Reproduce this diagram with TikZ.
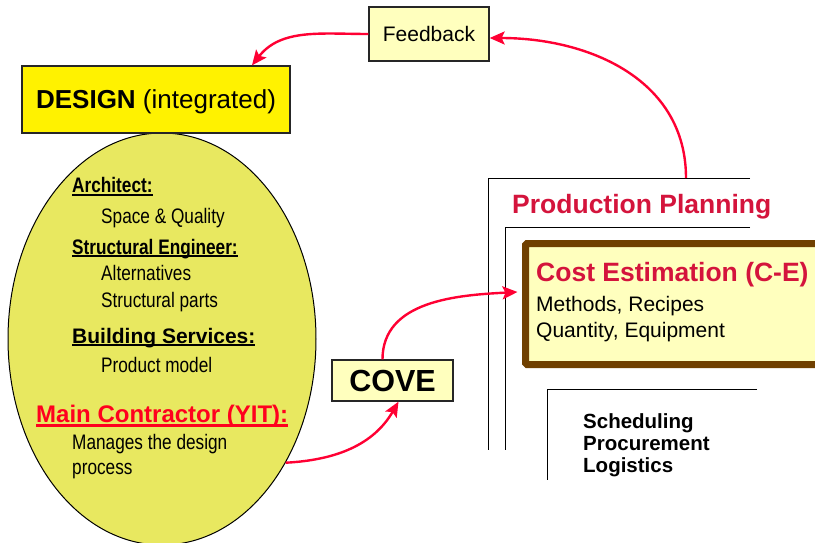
\documentclass[tikz,border=0pt]{standalone}
\usepackage{fontspec}
\setmainfont{Liberation Sans}
\newfontfamily\narrowfont[FakeStretch=0.82]{Liberation Sans}
\usetikzlibrary{shapes.geometric,arrows.meta}
\definecolor{arrowred}{RGB}{255,0,51}
\definecolor{titlered}{RGB}{212,20,60}
\definecolor{mainred}{RGB}{255,0,30}
\definecolor{paleyellow}{RGB}{255,255,190}
\definecolor{ellyellow}{RGB}{232,232,96}
\definecolor{brownborder}{RGB}{112,64,0}
\newcommand\fsz[1]{\fontsize{#1}{#1}\selectfont}
\newcommand\myul[1]{\setbox0\hbox{#1}\rlap{\rule[-2.8pt]{\wd0}{1.6pt}}\box0}
\newcommand\myulthick[1]{\setbox0\hbox{#1}\rlap{\rule[-5pt]{\wd0}{2.6pt}}\box0}
\tikzset{
  box/.style={draw=black!85, line width=1.3pt, inner sep=0pt},
  txt/.style={anchor=base west, inner sep=0pt},
  redarrow/.style={draw=arrowred, line width=2.4pt, -{Stealth[length=15pt,width=13pt,inset=3pt]}},
  frame/.style={draw=black, line width=1pt}
}
\begin{document}
\begin{tikzpicture}[x=1pt,y=-1pt]
\useasboundingbox (0,0) rectangle (815,543);
% ellipse
\node[ellipse, draw=black, line width=1pt, fill=ellyellow, minimum width=308pt, minimum height=412pt, inner sep=0pt] (ell) at (162,339) {};
% design box
\node[box, fill=yellow, minimum width=268pt, minimum height=67pt, text height=18.7pt, text depth=0pt] (design) at (156,99.5) {\fsz{26}\textbf{DESIGN} (integrated)};
% feedback
\node[box, fill=paleyellow, minimum width=120pt, minimum height=54pt] (fb) at (429,34) {\fsz{21}Feedback};
% COVE
\node[box, fill=paleyellow, minimum width=121pt, minimum height=41pt] (cove) at (392.5,380.5) {\fsz{30.5}\textbf{COVE}};
% frames
\coordinate (pptop) at (686,178);
\draw[frame] (750,178) -- (488,178) -- (488,450);
\draw[frame] (750,227) -- (505,227) -- (505,450);
\draw[frame] (757,389) -- (547,389) -- (547,480);
% cost estimation box
\node[draw=brownborder, line width=7pt, fill=paleyellow, rounded corners=1.5pt, minimum width=314.5pt, minimum height=121pt, inner sep=0pt] (ce) at (682.75,304) {};
% texts ellipse
\node[txt] (t1) at (72,193) {\narrowfont\fsz{21}\bfseries\myul{Architect:}};
\node[txt] (t2) at (101,223) {\narrowfont\fsz{21}Space \& Quality};
\node[txt] (t3) at (72,254) {\narrowfont\fsz{21}\bfseries\myul{Structural Engineer:}};
\node[txt] (t4) at (101,280) {\narrowfont\fsz{21}Alternatives};
\node[txt] (t5) at (101,307) {\narrowfont\fsz{21}Structural parts};
\node[txt] (t6) at (72,343) {\fsz{21}\bfseries\myul{Building Services:}};
\node[txt] (t7) at (101,372) {\narrowfont\fsz{21}Product model};
\node[txt, text=mainred] (t8) at (36,422) {\fsz{24}\bfseries\myulthick{Main Contractor (YIT):}};
\node[txt] (t9) at (72,449) {\narrowfont\fsz{21}Manages the design};
\node[txt] (t10) at (72,474) {\narrowfont\fsz{21}process};
% texts right
\node[txt, text=titlered] (pp) at (512,213) {\fsz{26.5}\bfseries Production Planning};
\node[txt, text=titlered] (cet) at (536,281) {\fsz{26.5}\bfseries Cost Estimation (C-E)};
\node[txt] (m1) at (536,311) {\fsz{21}Methods, Recipes};
\node[txt] (m2) at (536,337) {\fsz{21}Quantity, Equipment};
\node[txt] (s1) at (583,428) {\fsz{20.5}\bfseries Scheduling};
\node[txt] (s2) at (583,450) {\fsz{20.5}\bfseries Procurement};
\node[txt] (s3) at (583,472) {\fsz{20.5}\bfseries Logistics};
% arrows
\draw[redarrow] (fb.west) to[out=180,in=52] ([xshift=96pt]design.north);
\draw[redarrow] (pptop) to[out=90,in=0,looseness=1.05] ([yshift=-4pt]fb.east);
\draw[redarrow] (ell.-45) to[out=3,in=-120] ([xshift=6pt]cove.south);
\draw[redarrow] ([xshift=-10pt]cove.north) to[out=90,in=183] ([shift={(-4.5,-12)}]ce.west);
\end{tikzpicture}
\end{document}
